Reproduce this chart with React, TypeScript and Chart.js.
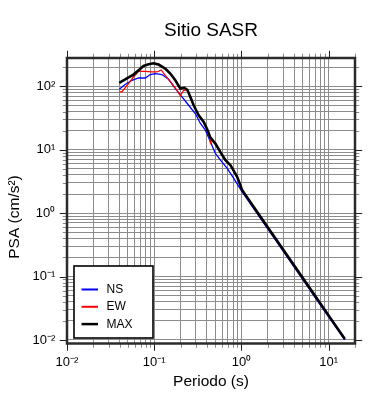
import React, { useEffect, useRef } from 'react';
import { Chart, registerables } from 'chart.js';

Chart.register(...registerables);

// ---- data ----
const periodsNS = [0.0397, 0.0464, 0.0555, 0.0661, 0.0789, 0.09, 0.1026, 0.1227, 0.146, 0.1743, 0.208, 0.2478, 0.2955, 0.338, 0.3855, 0.4405, 0.502, 0.574, 0.686, 0.815, 1.0, 1.5, 2, 3, 5, 7, 10, 15.3];
const psaNS = [89.7, 106.4, 124.3, 135.1, 135.1, 152.8, 158.5, 152.8, 128.9, 92.0, 67.8, 50.2, 37.2, 25.9, 20.3, 13.3, 8.71, 6.84, 5.06, 3.52, 2.25, 1.0, 0.565, 0.252, 0.091, 0.0465, 0.0229, 0.0100];

const periodsEW = [0.0397, 0.0426, 0.0507, 0.0578, 0.0661, 0.0789, 0.0942, 0.1074, 0.1202, 0.1336, 0.1596, 0.1823, 0.199, 0.2173, 0.2378, 0.2594, 0.2831, 0.323, 0.369, 0.404, 0.425, 0.4405, 0.46, 0.502, 0.574, 0.655, 0.748, 0.892, 1.019, 1.5, 2, 3, 5, 7, 10, 15.3];
const psaEW = [81.3, 81.3, 110.3, 140, 172.2, 172.2, 168, 168, 180.8, 148.9, 110.3, 86.5, 70.8, 86.5, 88.1, 67.8, 50.2, 34.9, 27.4, 21.0, 17.5, 12.8, 14.5, 12.5, 9.14, 6.84, 5.70, 3.73, 2.30, 1.06, 0.598, 0.267, 0.0963, 0.0492, 0.0242, 0.0104];

const periodsMAX = [0.0397, 0.0464, 0.0578, 0.0661, 0.0754, 0.086, 0.0981, 0.112, 0.1336, 0.1527, 0.1743, 0.199, 0.2213, 0.2392, 0.2594, 0.2831, 0.323, 0.369, 0.404, 0.4405, 0.502, 0.574, 0.655, 0.748, 0.892, 1.019, 1.5, 2, 3, 5, 7, 10, 15.3];
const psaMAX = [113.5, 128.9, 152.8, 178.7, 208.9, 221.9, 230.3, 219.9, 190.1, 158.5, 124.3, 92.0, 94.7, 88.1, 67.8, 50.2, 34.9, 27.4, 21.0, 15.5, 12.5, 9.14, 6.84, 5.70, 3.73, 2.30, 1.06, 0.598, 0.267, 0.0963, 0.0492, 0.0242, 0.0104];

const seriesNames = ['NS', 'EW', 'MAX'];
const seriesColors = ['#0000ff', '#ff0000', '#000000'];

const decadeValues = [0.01, 0.1, 1, 10, 100];
const decadeLabels = ['10⁻²', '10⁻¹', '10⁰', '10¹', '10²'];
const minorMultipliers = [1, 2, 3, 4, 5, 6, 7, 8, 9];

const titleText = 'Sitio SASR';
const xTitleText = 'Periodo (s)';
const yTitleText = 'PSA (cm/s²)';

const X_MIN = 0.01;
const X_MAX = 20;
const Y_MIN = 0.0088;
const Y_MAX = 279;

const FONT = "'Liberation Sans', Arial, Helvetica, sans-serif";

const gridValues: number[] = [];
decadeValues.forEach((d) => minorMultipliers.forEach((m) => gridValues.push(Number((d * m).toPrecision(3)))));

const isDecade = (v: number) => decadeValues.some((d) => Math.abs(d - v) / d < 1e-6);
const decadeLabel = (v: number) => {
  const i = decadeValues.findIndex((d) => Math.abs(d - v) / d < 1e-6);
  return i >= 0 ? decadeLabels[i] : '';
};

const toPoints = (xs: number[], ys: number[]) => xs.map((x, i) => ({ x, y: ys[i] }));

const decorPlugin = {
  id: 'decor',
  afterDraw(chart: any) {
    const { ctx, chartArea: a, scales } = chart;
    const xs = scales.x;
    const ys = scales.y;
    ctx.save();
    // tick marks outside frame on all four sides
    ctx.lineWidth = 1;
    xs.ticks.forEach((t: any) => {
      const major = isDecade(t.value);
      const len = major ? 6 : 3;
      const x = Math.round(xs.getPixelForValue(t.value)) + 0.5;
      ctx.strokeStyle = major ? '#222222' : '#8a8a8a';
      ctx.beginPath();
      ctx.moveTo(x, a.bottom);
      ctx.lineTo(x, a.bottom + 1.25 + len);
      ctx.moveTo(x, a.top);
      ctx.lineTo(x, a.top - 1.25 - len);
      ctx.stroke();
    });
    ys.ticks.forEach((t: any) => {
      const major = isDecade(t.value);
      const len = major ? 6 : 3;
      const y = Math.round(ys.getPixelForValue(t.value)) + 0.5;
      ctx.strokeStyle = major ? '#222222' : '#8a8a8a';
      ctx.beginPath();
      ctx.moveTo(a.left, y);
      ctx.lineTo(a.left - 1.25 - len, y);
      ctx.moveTo(a.right, y);
      ctx.lineTo(a.right + 1.25 + len, y);
      ctx.stroke();
    });
    // frame
    ctx.strokeStyle = '#2b2b2b';
    ctx.lineWidth = 2.5;
    ctx.strokeRect(a.left, a.top, a.right - a.left, a.bottom - a.top);

    // y-axis title
    ctx.fillStyle = '#000';
    ctx.font = `15.5px ${FONT}`;
    ctx.textAlign = 'center';
    ctx.textBaseline = 'middle';
    ctx.save();
    ctx.translate(15, 217);
    ctx.rotate(-Math.PI / 2);
    ctx.fillText(yTitleText, 0, 0);
    ctx.restore();

    // legend box
    const bx = a.left + 7;
    const by = a.bottom - 77.5;
    const bw = 79;
    const bh = 72;
    ctx.fillStyle = '#ffffff';
    ctx.fillRect(bx, by, bw, bh);
    ctx.strokeStyle = '#000';
    ctx.lineWidth = 1.6;
    ctx.strokeRect(bx, by, bw, bh);
    ctx.font = `12px ${FONT}`;
    ctx.textAlign = 'left';
    ctx.textBaseline = 'alphabetic';
    chart.data.datasets.forEach((ds: any, i: number) => {
      const ly = by + 23.5 + i * 17.3;
      ctx.strokeStyle = ds.borderColor;
      ctx.lineWidth = i === 2 ? 2.5 : 2;
      ctx.beginPath();
      ctx.moveTo(bx + 7.5, ly);
      ctx.lineTo(bx + 24, ly);
      ctx.stroke();
      ctx.fillStyle = '#000';
      ctx.fillText(ds.label, bx + 32.5, ly + 3.5);
    });
    ctx.restore();
  },
};

export default function App() {
  const canvasRef = useRef<HTMLCanvasElement | null>(null);

  useEffect(() => {
    if (!canvasRef.current) return;
    Chart.defaults.color = '#000';
    const chart = new Chart(canvasRef.current, {
      type: 'line',
      data: {
        datasets: [
          {
            label: seriesNames[0],
            data: toPoints(periodsNS, psaNS),
            borderColor: seriesColors[0],
            borderWidth: 1.3,
            pointRadius: 0,
            tension: 0,
            fill: false,
            order: 3,
          },
          {
            label: seriesNames[1],
            data: toPoints(periodsEW, psaEW),
            borderColor: seriesColors[1],
            borderWidth: 1.3,
            pointRadius: 0,
            tension: 0,
            fill: false,
            order: 2,
          },
          {
            label: seriesNames[2],
            data: toPoints(periodsMAX, psaMAX),
            borderColor: seriesColors[2],
            borderWidth: 2.6,
            pointRadius: 0,
            tension: 0,
            fill: false,
            order: 1,
          },
        ],
      },
      options: {
        responsive: false,
        animation: false,
        devicePixelRatio: 1,
        layout: { padding: { left: 0, right: 35, top: 0, bottom: 0 } },
        plugins: {
          legend: { display: false },
          tooltip: { enabled: false },
          title: {
            display: true,
            fullSize: false,
            text: titleText,
            color: '#000',
            font: { family: FONT, size: 19, weight: 'normal' },
            padding: { top: 19.6, bottom: 15.6 },
          },
        },
        scales: {
          x: {
            type: 'logarithmic',
            min: X_MIN,
            max: X_MAX,
            afterBuildTicks: (scale: any) => {
              scale.ticks = gridValues.filter((v) => v >= X_MIN && v <= X_MAX).map((v) => ({ value: v }));
            },
            afterFit: (scale: any) => {
              scale.height = 56.5;
            },
            grid: { color: '#8c8c8c', lineWidth: 1, drawTicks: false },
            border: { display: false },
            ticks: {
              autoSkip: false,
              maxRotation: 0,
              padding: 11.4,
              color: '#000',
              font: { family: FONT, size: 13 },
              callback: (v: any) => decadeLabel(Number(v)),
            },
            title: {
              display: true,
              text: xTitleText,
              color: '#000',
              font: { family: FONT, size: 15.5 },
              padding: { top: 0, bottom: 9 },
            },
          },
          y: {
            type: 'logarithmic',
            min: Y_MIN,
            max: Y_MAX,
            afterBuildTicks: (scale: any) => {
              scale.ticks = gridValues.filter((v) => v >= 0.01 && v <= Y_MAX).map((v) => ({ value: v }));
            },
            afterFit: (scale: any) => {
              scale.width = 67;
            },
            grid: { color: '#8c8c8c', lineWidth: 1, drawTicks: false },
            border: { display: false },
            ticks: {
              autoSkip: false,
              padding: 11.7,
              color: '#000',
              font: { family: FONT, size: 13 },
              callback: (v: any) => decadeLabel(Number(v)),
            },
          },
        },
      },
      plugins: [decorPlugin],
    } as any);
    return () => chart.destroy();
  }, []);

  return (
    <div style={{ position: 'absolute', left: 0, top: 0, width: 390, height: 400, background: '#fff' }}>
      <canvas ref={canvasRef} width={390} height={400} style={{ display: 'block' }} />
    </div>
  );
}
